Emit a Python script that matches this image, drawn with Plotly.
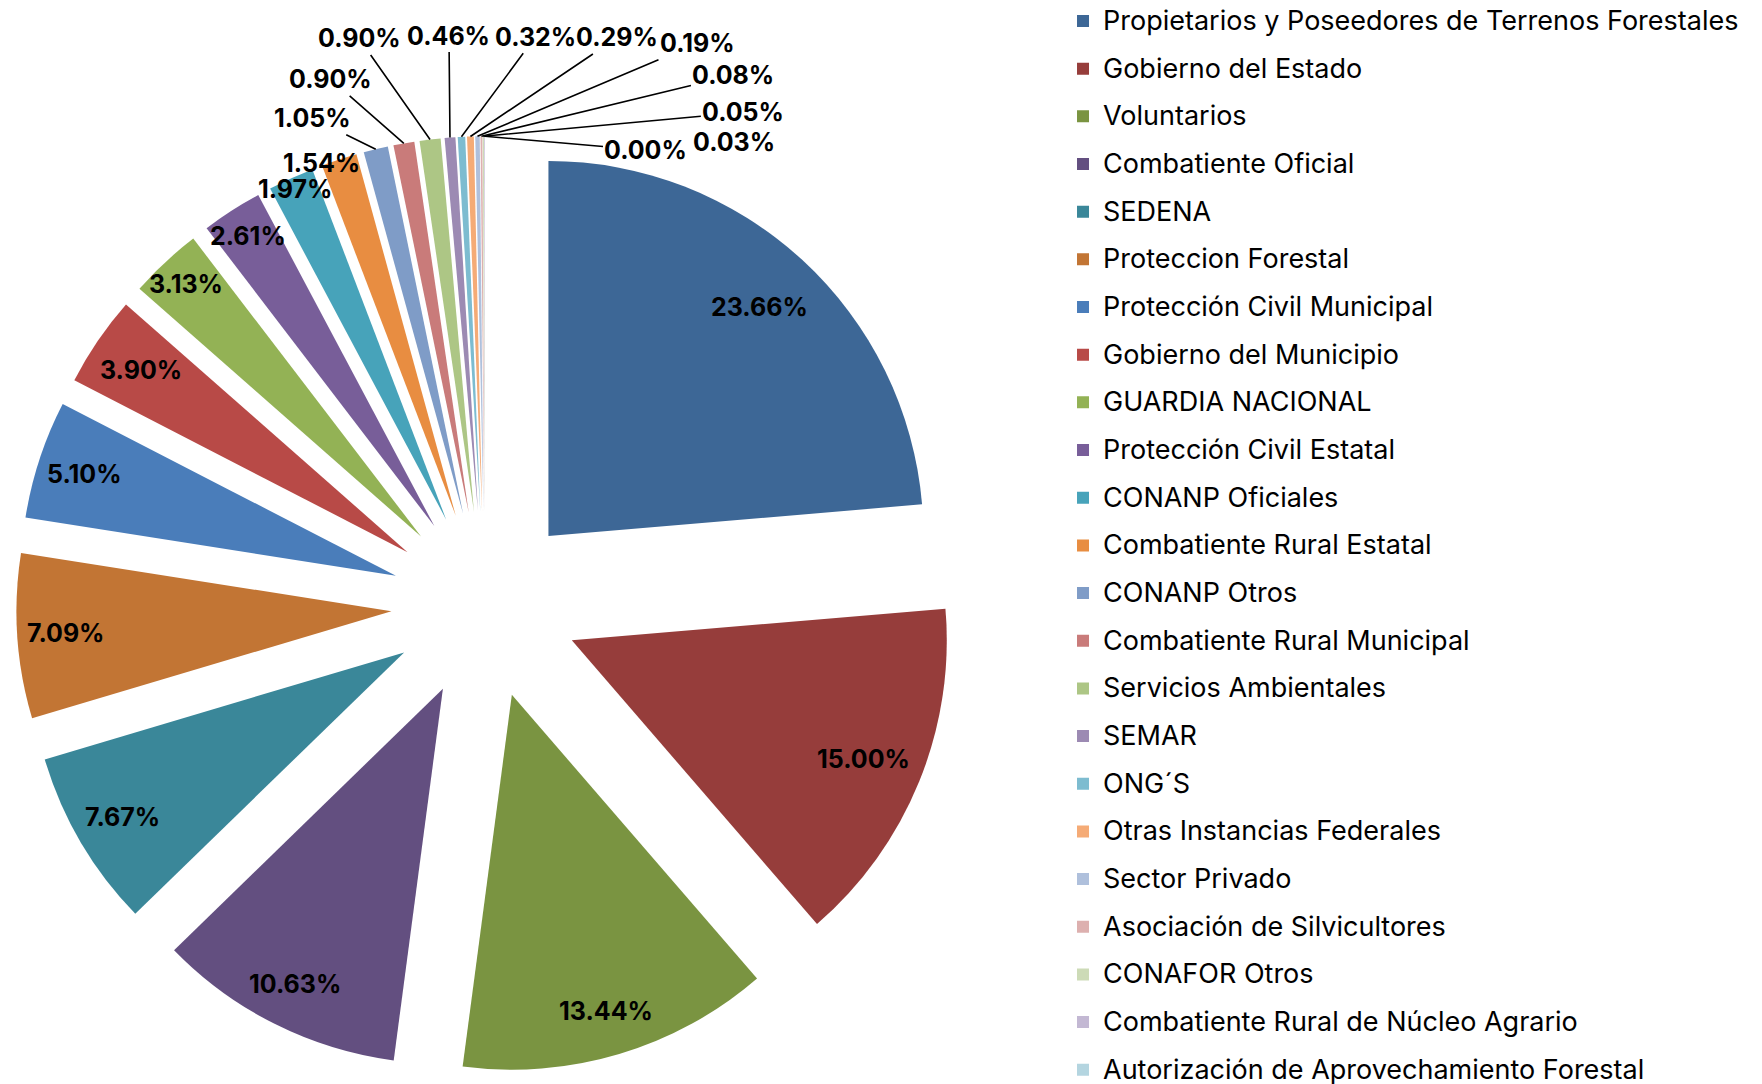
import math

import plotly.graph_objects as go

# participación por tipo de combatiente (%)
categories = [
    "Propietarios y Poseedores de Terrenos Forestales",
    "Gobierno del Estado",
    "Voluntarios",
    "Combatiente Oficial",
    "SEDENA",
    "Proteccion Forestal",
    "Protección Civil Municipal",
    "Gobierno del Municipio",
    "GUARDIA NACIONAL",
    "Protección Civil Estatal",
    "CONANP Oficiales",
    "Combatiente Rural Estatal",
    "CONANP Otros",
    "Combatiente Rural Municipal",
    "Servicios Ambientales",
    "SEMAR",
    "ONG´S",
    "Otras Instancias Federales",
    "Sector Privado",
    "Asociación de Silvicultores",
    "CONAFOR Otros",
    "Combatiente Rural de Núcleo Agrario",
    "Autorización de Aprovechamiento Forestal",
]
shares = [23.66, 15.00, 13.44, 10.63, 7.67, 7.09, 5.10, 3.90, 3.13, 2.61, 1.97,
          1.54, 1.05, 0.90, 0.90, 0.46, 0.32, 0.29, 0.19, 0.08, 0.05, 0.03, 0.00]
colors = [
    "#3d6796", "#963d3b", "#7a9441", "#634f80", "#3a8799", "#c27534",
    "#4a7dba", "#b84a47", "#93b255", "#785e99", "#47a3ba", "#e88d41",
    "#7f9cc7", "#c97b7a", "#adc685", "#9c8ab3", "#7dbcd0", "#f5ab76",
    "#afc0dc", "#ddb0af", "#cddbb7", "#c3b8d3", "#b4d5e0",
]

W, H = 1762, 1084
FONT = "Inter"
PULL = 0.25
DOM_X = [0.0092, 0.5413]
DOM_Y = [0.0095, 0.8743]

# big slices: label inside, at this fraction of the radius from the slice apex
inside_radial = [0.83, 0.84, 0.88, 0.88, 0.87, 0.87, 0.875, 0.86, 0.92, 0.92, 0.97]
n_inside = len(inside_radial)
# small slices: label outside, offset (px) from the slice's outer edge, with a leader line
label_offsets = [(-18, 3), (-63, -31), (-73, -64), (-71, -101), (-1, -102), (74, -100),
                 (147, -99), (220, -93), (252, -61), (260, -24), (249, 6), (161, 14)]
leader_shown = [False, True, True, True, True, True, True, True, True, True, False, True]

# legend rows are much taller than the text: pad each entry with empty lines
legend_labels = ['<br><br><span style="font-size:27px">%s</span><br> ' % c for c in categories]

fig = go.Figure(go.Pie(
    labels=legend_labels,
    values=shares,
    sort=False,
    direction="clockwise",
    rotation=0,
    pull=PULL,
    marker=dict(colors=colors, line=dict(width=0)),
    textposition="none",
    domain=dict(x=DOM_X, y=DOM_Y),
    hoverinfo="none",
))

# percentage labels, placed from the same pie geometry plotly uses
box = min((DOM_X[1] - DOM_X[0]) * W, (DOM_Y[1] - DOM_Y[0]) * H)
radius = box / (2 * (1 + PULL))
cx = (DOM_X[0] + DOM_X[1]) / 2
cy = (DOM_Y[0] + DOM_Y[1]) / 2
total = sum(shares)
label_font = dict(family=FONT, size=25, color="black", weight="bold")
before = 0
for i, v in enumerate(shares):
    mid = (before + v / 2) / total * 2 * math.pi
    before += v
    if i < n_inside:
        dist = radius * (PULL + inside_radial[i])
        fig.add_annotation(
            x=cx + dist * math.sin(mid) / W, y=cy + dist * math.cos(mid) / H,
            xref="paper", yref="paper", xanchor="center", yanchor="middle",
            text="%.2f%%" % v, showarrow=False, font=label_font,
        )
    else:
        k = i - n_inside
        dist = radius * (1 + PULL)
        ax, ay = label_offsets[k]
        fig.add_annotation(
            x=cx + dist * math.sin(mid) / W, y=cy + dist * math.cos(mid) / H,
            xref="paper", yref="paper",
            text="%.2f%%" % v,
            showarrow=True, arrowhead=0, arrowwidth=1.6, standoff=0,
            arrowcolor="black" if leader_shown[k] else "rgba(0,0,0,0)",
            ax=ax, ay=ay, font=label_font,
        )

fig.update_layout(
    width=W, height=H,
    margin=dict(l=0, r=0, t=0, b=0, autoexpand=False),
    paper_bgcolor="white",
    font=dict(family=FONT, color="black"),
    legend=dict(x=0.6033, y=1.0072, xanchor="left", yanchor="top", maxheight=2000,
                font=dict(size=8.59, color="black"), traceorder="normal"),
)

fig.write_html("out.html", config={"staticPlot": True},
               post_script="document.body.style.margin = '0';")
